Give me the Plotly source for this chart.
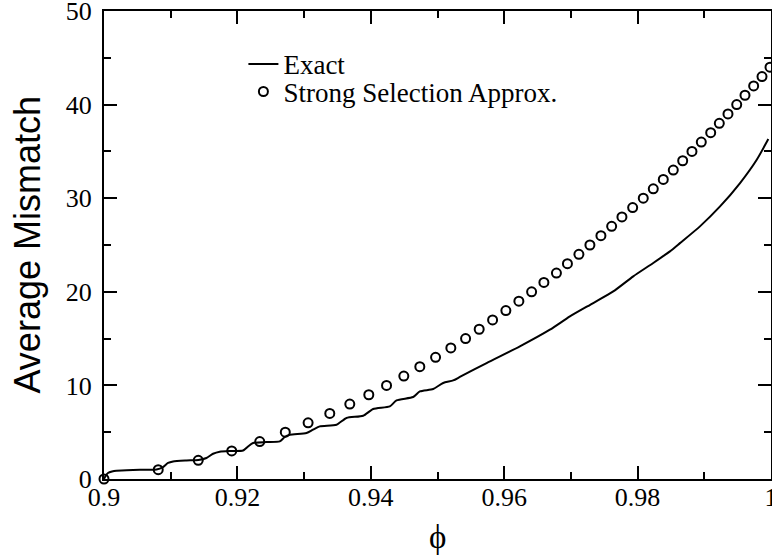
import plotly.graph_objects as go

# Strong selection approximation (open circles)
approx_phi = [0.9, 0.90813, 0.91413, 0.91915, 0.92335, 0.92718, 0.9306, 0.93385,
              0.93685, 0.9397, 0.94236, 0.94495, 0.94735, 0.94971, 0.952, 0.95421,
              0.95625, 0.95826, 0.96025, 0.9622, 0.96411, 0.96595, 0.96783, 0.96948,
              0.9712, 0.97285, 0.9745, 0.97611, 0.97765, 0.97926, 0.98085, 0.98235,
              0.98385, 0.98535, 0.98676, 0.98815, 0.98955, 0.99096, 0.99225, 0.99355,
              0.99486, 0.9961, 0.9974, 0.99865, 0.99985]
approx_val = [0, 1, 2, 3, 4, 5, 6, 7, 8, 9, 10, 11, 12, 13, 14, 15, 16, 17, 18, 19,
              20, 21, 22, 23, 24, 25, 26, 27, 28, 29, 30, 31, 32, 33, 34, 35, 36, 37,
              38, 39, 40, 41, 42, 43, 44]

# Exact curve
exact_phi = [0.9, 0.9003, 0.9006, 0.9012, 0.90186, 0.90435, 0.90786, 0.90885, 0.9096,
             0.91035, 0.91236, 0.91416, 0.91536, 0.91635, 0.91735, 0.91915, 0.92085,
             0.9216, 0.92235, 0.92436, 0.92635, 0.9271, 0.92785, 0.93036, 0.93135,
             0.93235, 0.93486, 0.93636, 0.93885, 0.94035, 0.94285, 0.94386, 0.94635,
             0.94735, 0.94935, 0.95085, 0.95235, 0.95335, 0.95736, 0.96235, 0.96685,
             0.96985, 0.97335, 0.97635, 0.97935, 0.98235, 0.98485, 0.98635, 0.98935,
             0.99236, 0.99536, 0.99786, 0.9996]
exact_val = [0.0, 0.40, 0.64, 0.80, 0.89, 0.97, 1.02, 1.28, 1.71, 1.88, 1.98, 2.03,
             2.24, 2.70, 2.92, 2.99, 3.04, 3.48, 3.85, 3.95, 4.02, 4.49, 4.73, 4.91,
             5.27, 5.62, 5.80, 6.52, 6.76, 7.48, 7.76, 8.40, 8.76, 9.36, 9.61, 10.26,
             10.53, 10.9, 12.39, 14.17, 15.95, 17.37, 18.8, 20.04, 21.65, 23.08, 24.32,
             25.2, 26.99, 29.12, 31.62, 34.11, 36.32]

x_ticks = [0.9, 0.92, 0.94, 0.96, 0.98, 1.0]
x_ticklabels = ["0.9", "0.92", "0.94", "0.96", "0.98", "1"]
y_ticks = [0, 10, 20, 30, 40, 50]
y_ticklabels = ["0", "10", "20", "30", "40", "50"]
x_title = "ϕ"
y_title = "Average Mismatch"

SERIF = "Liberation Serif, Times New Roman, serif"
SANS = "Liberation Sans, Arial, sans-serif"

fig = go.Figure()
fig.add_trace(go.Scatter(
    x=exact_phi, y=exact_val, mode="lines", name="Exact",
    line=dict(color="black", width=2, shape="spline", smoothing=0.6),
    legend="legend", cliponaxis=False,
))
fig.add_trace(go.Scatter(
    x=approx_phi, y=approx_val, mode="markers", name="Strong Selection Approx.",
    marker=dict(symbol="circle-open", size=9, color="black", line=dict(width=2)),
    legend="legend2", cliponaxis=False,
))

axis_common = dict(
    showline=True, linewidth=2, linecolor="black", mirror="allticks",
    ticks="inside", ticklen=13, tickwidth=2, tickcolor="black",
    showgrid=False, zeroline=False, automargin=False,
    ticklabeloverflow="allow",
    tickfont=dict(family=SERIF, size=26, color="black"),
)

fig.update_xaxes(
    range=[0.9, 1.0], tickvals=x_ticks, ticktext=x_ticklabels,
    minor=dict(tickvals=[0.91, 0.93, 0.95, 0.97, 0.99], ticks="inside", ticklen=7,
               tickwidth=2, tickcolor="black"),
    ticklabelstandoff=-6,
    **axis_common,
)
fig.update_yaxes(
    range=[0, 50], tickvals=y_ticks, ticktext=y_ticklabels,
    minor=dict(tickvals=[5, 15, 25, 35, 45], ticks="inside", ticklen=7,
               tickwidth=2, tickcolor="black"),
    ticklabelstandoff=5,
    **axis_common,
)

fig.add_annotation(
    text=y_title, xref="paper", yref="paper", x=-0.1147, y=0.5,
    xanchor="center", yanchor="middle", textangle=-90, showarrow=False,
    font=dict(family=SANS, size=36, color="black"),
)
fig.add_annotation(
    text=x_title, xref="paper", yref="paper", x=0.5007, y=-0.124,
    xanchor="center", yanchor="middle", showarrow=False,
    font=dict(family=SERIF, size=33, color="black"),
)

legend_common = dict(
    xanchor="left", yanchor="middle", bgcolor="rgba(0,0,0,0)", borderwidth=0,
    font=dict(family=SERIF, size=27, color="black"),
)
fig.update_layout(
    width=772, height=556,
    margin=dict(l=104, r=1, t=11, b=77),
    plot_bgcolor="white", paper_bgcolor="white",
    showlegend=True,
    legend=dict(x=0.209, y=0.886, **legend_common),
    legend2=dict(x=0.209, y=0.827, **legend_common),
)

fig.write_html("out.html", config={"displayModeBar": False},
               post_script="document.body.style.margin='0px';")
